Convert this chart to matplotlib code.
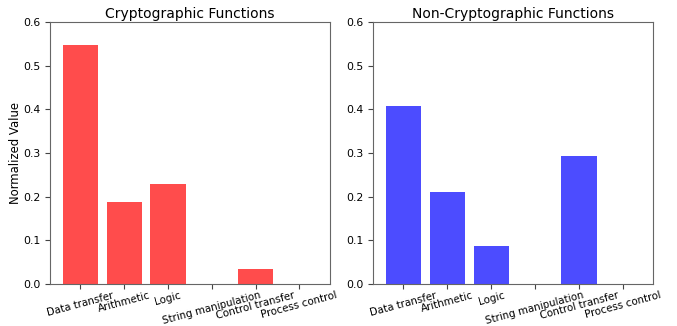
import numpy as np
import matplotlib.pyplot as plt

categories = ["Data transfer", "Arithmetic", "Logic", "String manipulation",
              "Control transfer", "Process control"]
crypto = [0.548, 0.187, 0.229, 0.0, 0.035, 0.0]
non_crypto = [0.408, 0.211, 0.087, 0.0, 0.293, 0.0]

fig = plt.figure(figsize=(6.77, 3.26), dpi=100)
ax1 = fig.add_axes([0.074, 0.129, 0.413, 0.804])
ax2 = fig.add_axes([0.551, 0.129, 0.414, 0.804])

x = np.arange(len(categories))
for ax, vals, col, title in [(ax1, crypto, "red", "Cryptographic Functions"),
                             (ax2, non_crypto, "blue", "Non-Cryptographic Functions")]:
    ax.bar(x, vals, width=0.8, color=col, alpha=0.7)
    ax.set_ylim(0, 0.6)
    ax.set_xticks(x)
    ax.set_xticklabels(categories, rotation=15, fontsize=7.4)
    ax.tick_params(axis="x", pad=1)
    ax.tick_params(axis="y", labelsize=7.8)
    ax.set_title(title, fontsize=10, pad=3)
    for s in ax.spines.values():
        s.set_color("#666666")
    ax.tick_params(colors="#444444", labelcolor="black")

ax1.set_ylabel("Normalized Value", fontsize=8.4, labelpad=1)

plt.savefig("out.png")
